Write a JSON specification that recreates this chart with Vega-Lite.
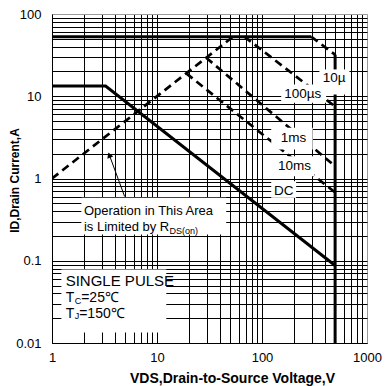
{
  "$schema": "https://vega.github.io/schema/vega-lite/v6.json",
  "width": 315,
  "height": 329,
  "autosize": "none",
  "padding": {"left": 52, "top": 14, "right": 20, "bottom": 43},
  "background": "white",
  "config": {"view": {"stroke": null}, "font": "Liberation Sans"},
  "datasets": {
    "solid": [
      {"s": "top", "o": 1, "x": 1, "y": 53}, {"s": "top", "o": 2, "x": 294, "y": 53},
      {"s": "vert", "o": 1, "x": 497, "y": 32}, {"s": "vert", "o": 2, "x": 497, "y": 0.01},
      {"s": "dc", "o": 1, "x": 1, "y": 13.3}, {"s": "dc", "o": 2, "x": 3.24, "y": 13.3}, {"s": "dc", "o": 3, "x": 497, "y": 0.0875}
    ],
    "dashed": [
      {"s": "rds", "o": 1, "x": 1, "y": 1}, {"s": "rds", "o": 2, "x": 53, "y": 53},
      {"s": "10us", "o": 1, "x": 294, "y": 53}, {"s": "10us", "o": 2, "x": 497, "y": 32},
      {"s": "100us", "o": 1, "x": 68, "y": 53}, {"s": "100us", "o": 2, "x": 497, "y": 7.5},
      {"s": "1ms", "o": 1, "x": 29.4, "y": 29.4}, {"s": "1ms", "o": 2, "x": 497, "y": 1.41},
      {"s": "10ms", "o": 1, "x": 19, "y": 19}, {"s": "10ms", "o": 2, "x": 497, "y": 0.676}
    ],
    "boxes": [
      {"x": 352, "x2": 680, "y": 10.5, "y2": 21.2},
      {"x": 152.4, "x2": 408, "y": 8.33, "y2": 13.92},
      {"x": 122.4, "x2": 304, "y": 2.253, "y2": 4.14},
      {"x": 125.9, "x2": 316, "y": 1.066, "y2": 1.867},
      {"x": 122.4, "x2": 211.5, "y": 0.582, "y2": 0.927},
      {"x": 1.905, "x2": 45.6, "y": 0.2084, "y2": 0.582},
      {"x": 1.228, "x2": 12.26, "y": 0.01338, "y2": 0.0781}
    ],
    "curveLabels": [
      {"t": "10µ", "x": 486, "y": 16.5},
      {"t": "100µs", "x": 244, "y": 10.8},
      {"t": "1ms", "x": 199, "y": 3.13},
      {"t": "10ms", "x": 204, "y": 1.41},
      {"t": "DC", "x": 161, "y": 0.70}
    ],
    "notes": [
      {"t": "Operation in This Area", "x": 2.016, "y": 0.397},
      {"t": "is Limited by R", "x": 2.016, "y": 0.2606}
    ],
    "pulse": [
      {"t": "SINGLE PULSE", "x": 1.35, "y": 0.0574}
    ],
    "temps": [
      {"t": "T", "x": 1.35, "y": 0.0357},
      {"t": "=25℃", "x": 1.896, "y": 0.0357},
      {"t": "T", "x": 1.35, "y": 0.0228},
      {"t": "=150℃", "x": 1.815, "y": 0.0228}
    ],
    "subs": [
      {"t": "DS(on)", "x": 13.18, "y": 0.2285},
      {"t": "C", "x": 1.644, "y": 0.0328},
      {"t": "J", "x": 1.644, "y": 0.02155}
    ],
    "arrow": [
      {"o": 1, "x": 4.918, "y": 0.604},
      {"o": 2, "x": 3.516, "y": 1.931}
    ],
    "arrowHead": [
      {"x": 3.516, "y": 1.931}
    ]
  },
  "encoding": {
    "x": {
      "field": "x", "type": "quantitative",
      "scale": {"type": "log", "domain": [1, 1000], "nice": false},
      "axis": {
        "values": [1,2,3,4,5,6,7,8,9,10,20,30,40,50,60,70,80,90,100,200,300,400,500,600,700,800,900,1000],
        "labelExpr": "indexof([1,10,100,1000], datum.value) >= 0 ? '' + datum.value : ''",
        "labelFlush": false, "labelOverlap": false, "labelBound": false,
        "ticks": false, "labelPadding": 8, "labelFontSize": 13, "labelColor": "black",
        "grid": true,
        "gridColor": {"condition": {"test": "datum.value == 1000", "value": "#999999"}, "value": "black"},
        "gridOpacity": 1, "gridWidth": 1,
        "domainColor": "black", "domainWidth": 1,
        "title": "VDS,Drain-to-Source Voltage,V",
        "titleFontSize": 14, "titleFontWeight": "bold", "titleColor": "black",
        "titleX": 180, "titleY": 35, "titleAlign": "center", "titleBaseline": "middle"
      }
    },
    "y": {
      "field": "y", "type": "quantitative",
      "scale": {"type": "log", "domain": [0.01, 100], "nice": false},
      "axis": {
        "values": [0.01,0.02,0.03,0.04,0.05,0.06,0.07,0.08,0.09,0.1,0.2,0.3,0.4,0.5,0.6,0.7,0.8,0.9,1,2,3,4,5,6,7,8,9,10,20,30,40,50,60,70,80,90,100],
        "labelExpr": "indexof([0.01,0.1,1,10,100], datum.value) >= 0 ? '' + datum.value : ''",
        "labelOverlap": false, "labelBound": false, "labelFlush": false,
        "ticks": false, "labelPadding": 11, "labelFontSize": 13, "labelColor": "black",
        "grid": true,
        "gridColor": {"condition": {"test": "datum.value == 100", "value": "#999999"}, "value": "black"},
        "gridOpacity": 1, "gridWidth": 1,
        "domainColor": "black", "domainWidth": 1,
        "title": "ID,Drain Current,A",
        "titleFontSize": 12, "titleFontWeight": "bold", "titleColor": "black",
        "titleX": -38, "titleY": 166, "titleAngle": 270, "titleAlign": "center", "titleBaseline": "middle"
      }
    }
  },
  "layer": [
    {
      "data": {"name": "solid"},
      "mark": {"type": "line", "color": "black", "strokeWidth": 3, "clip": true, "strokeCap": "butt"},
      "encoding": {"detail": {"field": "s"}, "order": {"field": "o"}}
    },
    {
      "data": {"name": "dashed"},
      "mark": {"type": "line", "color": "black", "strokeWidth": 2.7, "strokeDash": [8, 5], "clip": true, "strokeCap": "butt"},
      "encoding": {"detail": {"field": "s"}, "order": {"field": "o"}}
    },
    {
      "data": {"name": "arrow"},
      "mark": {"type": "line", "color": "black", "strokeWidth": 1},
      "encoding": {"order": {"field": "o"}}
    },
    {
      "data": {"name": "arrowHead"},
      "mark": {"type": "point", "shape": "triangle-up", "filled": true, "color": "black", "opacity": 1, "size": 40, "angle": 340}
    },
    {
      "data": {"name": "boxes"},
      "mark": {"type": "rect", "color": "white", "opacity": 1, "strokeWidth": 0},
      "encoding": {"x2": {"field": "x2"}, "y2": {"field": "y2"}}
    },
    {
      "data": {"name": "curveLabels"},
      "mark": {"type": "text", "fontSize": 13.5, "color": "black", "align": "center", "baseline": "middle"},
      "encoding": {"text": {"field": "t"}}
    },
    {
      "data": {"name": "notes"},
      "mark": {"type": "text", "fontSize": 13, "color": "black", "align": "left", "baseline": "middle"},
      "encoding": {"text": {"field": "t"}}
    },
    {
      "data": {"name": "pulse"},
      "mark": {"type": "text", "fontSize": 15, "color": "black", "align": "left", "baseline": "middle"},
      "encoding": {"text": {"field": "t"}}
    },
    {
      "data": {"name": "temps"},
      "mark": {"type": "text", "fontSize": 14, "color": "black", "align": "left", "baseline": "middle"},
      "encoding": {"text": {"field": "t"}}
    },
    {
      "data": {"name": "subs"},
      "mark": {"type": "text", "fontSize": 9, "color": "black", "align": "left", "baseline": "middle"},
      "encoding": {"text": {"field": "t"}}
    }
  ]
}
